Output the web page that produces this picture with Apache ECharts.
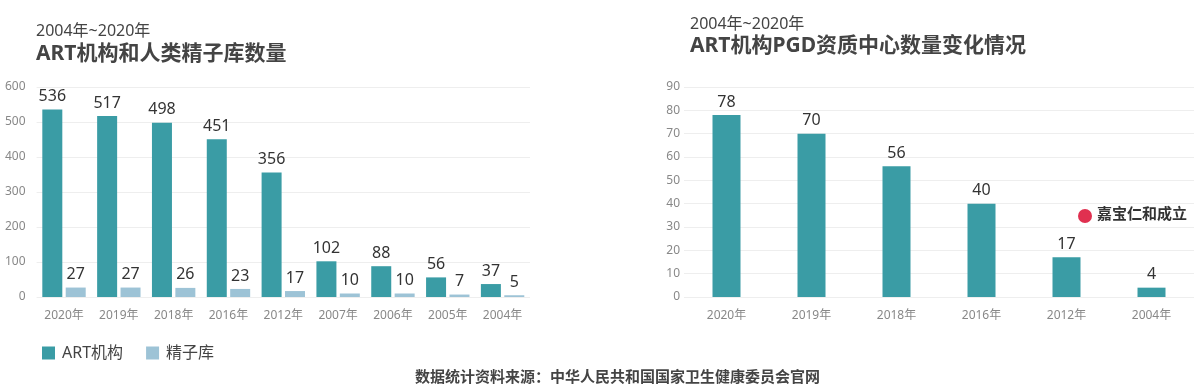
<!DOCTYPE html>
<html><head><meta charset="utf-8">
<script src="https://cdn.jsdelivr.net/npm/echarts@6/dist/echarts.min.js"></script>
<style>html,body{margin:0;padding:0;background:#fff}#c{width:1200px;height:391px}</style>
</head><body><div id="c"></div>
<script>
const leftCategories = ['2020年','2019年','2018年','2016年','2012年','2007年','2006年','2005年','2004年'];
const artValues = [536, 517, 498, 451, 356, 102, 88, 56, 37];
const spermBankValues = [27, 27, 26, 23, 17, 10, 10, 7, 5];
const rightCategories = ['2020年','2019年','2018年','2016年','2012年','2004年'];
const pgdValues = [78, 70, 56, 40, 17, 4];
const leftTicks = [0, 600, 100];
const rightTicks = [0, 90, 10];

const FONT = '"Noto Sans", "Noto Sans CJK SC", sans-serif';
const TEAL = '#3a9ca5';
const LIGHT = '#9dc3d6';

const chart = echarts.init(document.getElementById('c'), null, {renderer: 'canvas'});
const valLabel = {show: true, position: 'top', distance: 5, fontSize: 16, color: '#333', fontFamily: FONT};
const axisLabelY = {color: '#888', fontSize: 12, fontFamily: FONT};
const axisLabelX = {color: '#888', fontSize: 12, fontFamily: FONT, margin: 13};

chart.setOption({
  animation: false,
  textStyle: {fontFamily: FONT},
  title: [
    {text: '2004年~2020年', left: 36, top: 23, padding: 0, textStyle: {fontSize: 16, fontWeight: 'normal', color: '#444', fontFamily: FONT}},
    {text: 'ART机构和人类精子库数量', left: 36, top: 44, padding: 0, textStyle: {fontSize: 21, fontWeight: 'bold', color: '#444', fontFamily: FONT}},
    {text: '2004年~2020年', left: 690, top: 16, padding: 0, textStyle: {fontSize: 16, fontWeight: 'normal', color: '#444', fontFamily: FONT}},
    {text: 'ART机构PGD资质中心数量变化情况', left: 690, top: 36, padding: 0, textStyle: {fontSize: 21, fontWeight: 'bold', color: '#444', fontFamily: FONT}},
    {text: '数据统计资料来源：中华人民共和国国家卫生健康委员会官网', left: 415, top: 370, padding: 0, textStyle: {fontSize: 15, fontWeight: 'bold', color: '#444', fontFamily: FONT}}
  ],
  legend: {
    left: 42, top: 345, padding: 0, itemWidth: 13, itemHeight: 13, itemGap: 23, icon: 'rect',
    textStyle: {fontSize: 16, color: '#444', fontFamily: FONT, padding: [0, 0, 0, 2]},
    data: ['ART机构', '精子库']
  },
  grid: [
    {left: 36.6, width: 493.4, top: 87, height: 210},
    {left: 684, width: 510, top: 87, height: 210}
  ],
  xAxis: [
    {type: 'category', gridIndex: 0, data: leftCategories, axisLine: {show: false}, axisTick: {show: false}, axisLabel: axisLabelX},
    {type: 'category', gridIndex: 1, data: rightCategories, axisLine: {show: false}, axisTick: {show: false}, axisLabel: axisLabelX}
  ],
  yAxis: [
    {type: 'value', gridIndex: 0, min: leftTicks[0], max: leftTicks[1], interval: leftTicks[2], axisLabel: Object.assign({margin: 11}, axisLabelY), splitLine: {lineStyle: {color: '#eeeeee'}}},
    {type: 'value', gridIndex: 1, min: rightTicks[0], max: rightTicks[1], interval: rightTicks[2], axisLabel: Object.assign({margin: 4}, axisLabelY), splitLine: {lineStyle: {color: '#eeeeee'}}}
  ],
  series: [
    {name: 'ART机构', type: 'bar', xAxisIndex: 0, yAxisIndex: 0, data: artValues, barWidth: 20, barGap: '17%', itemStyle: {color: TEAL}, label: valLabel},
    {name: '精子库', type: 'bar', xAxisIndex: 0, yAxisIndex: 0, data: spermBankValues, barWidth: 20, barGap: '17%', itemStyle: {color: LIGHT}, label: valLabel},
    {name: 'PGD', type: 'bar', xAxisIndex: 1, yAxisIndex: 1, data: pgdValues, barWidth: 28, itemStyle: {color: TEAL}, label: valLabel}
  ],
  graphic: [
    {type: 'circle', shape: {cx: 1085, cy: 216, r: 7}, style: {fill: '#e03050'}},
    {type: 'text', left: 1097, top: 206, style: {text: '嘉宝仁和成立', fill: '#333', font: 'bold 15px "Noto Sans CJK SC", sans-serif'}}
  ]
});
</script>
</body></html>
